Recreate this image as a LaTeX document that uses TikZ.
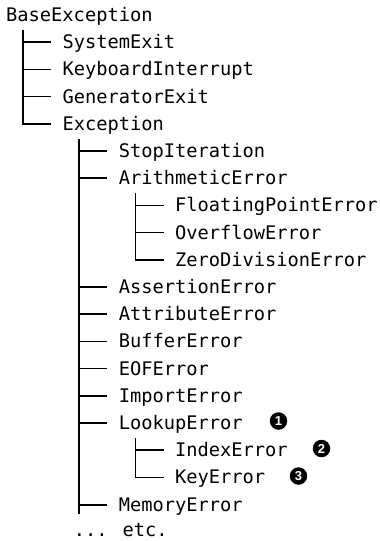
\documentclass[tikz,border=0pt]{standalone}
\usepackage{fontspec}
\newfontfamily\treefont{DejaVu Sans Mono}
\newfontfamily\calloutfont{Liberation Sans}
\usepackage{tikz}

\begin{document}
\begin{tikzpicture}[x=1pt, y=-1pt,
		exc/.style={anchor=west, inner sep=0pt, text height=13pt, text depth=0pt, font=\treefont\fontsize{18.7}{20}\selectfont},
		branch/.style={line width=1.5pt, black},
		callout/.style={circle, fill=black, inner sep=0pt, minimum size=17.5pt, text=white, font=\calloutfont\bfseries\fontsize{13}{13}\selectfont}]
	\useasboundingbox (0,0) rectangle (380,541);
	% exception names, one row each
	\node[exc] (base) at (6,15) {BaseException};
	\node[exc] (sysexit) at (62.3,42.2) {SystemExit};
	\node[exc] (keyint) at (62.3,69.4) {KeyboardInterrupt};
	\node[exc] (genexit) at (62.3,96.6) {GeneratorExit};
	\node[exc] (exc) at (62.3,123.8) {Exception};
	\node[exc] (stopit) at (118.6,151) {StopIteration};
	\node[exc] (arith) at (118.6,178.2) {ArithmeticError};
	\node[exc] (floating) at (174.9,205.4) {FloatingPointError};
	\node[exc] (overflow) at (174.9,232.6) {OverflowError};
	\node[exc] (zerodiv) at (174.9,259.8) {ZeroDivisionError};
	\node[exc] (assert) at (118.6,287) {AssertionError};
	\node[exc] (attr) at (118.6,314.2) {AttributeError};
	\node[exc] (buffer) at (118.6,341.4) {BufferError};
	\node[exc] (eof) at (118.6,368.6) {EOFError};
	\node[exc] (import) at (118.6,395.8) {ImportError};
	\node[exc] (lookup) at (118.6,423) {LookupError};
	\node[exc] (index) at (174.9,450.2) {IndexError};
	\node[exc] (key) at (174.9,477.4) {KeyError};
	\node[exc] (memory) at (118.6,505) {MemoryError};
	\node[exc] (etc) at (73.6,529.5) {... etc.};
	% tree branches
	\draw[branch] ([xshift=16.9pt, yshift=-8pt]base.south west) |- ([xshift=-11.3pt]sysexit.west)
		([xshift=16.9pt, yshift=-8pt]base.south west) |- ([xshift=-11.3pt]keyint.west)
		([xshift=16.9pt, yshift=-8pt]base.south west) |- ([xshift=-11.3pt]genexit.west)
		([xshift=16.9pt, yshift=-8pt]base.south west) |- ([xshift=-11.3pt]exc.west);
	\draw[branch] ([xshift=16.9pt, yshift=-8pt]exc.south west) |- ([xshift=-11.3pt]stopit.west)
		([xshift=16.9pt, yshift=-8pt]exc.south west) |- ([xshift=-11.3pt]arith.west)
		([xshift=16.9pt, yshift=-8pt]exc.south west) |- ([xshift=-11.3pt]assert.west)
		([xshift=16.9pt, yshift=-8pt]exc.south west) |- ([xshift=-11.3pt]attr.west)
		([xshift=16.9pt, yshift=-8pt]exc.south west) |- ([xshift=-11.3pt]buffer.west)
		([xshift=16.9pt, yshift=-8pt]exc.south west) |- ([xshift=-11.3pt]eof.west)
		([xshift=16.9pt, yshift=-8pt]exc.south west) |- ([xshift=-11.3pt]import.west)
		([xshift=16.9pt, yshift=-8pt]exc.south west) |- ([xshift=-11.3pt]lookup.west)
		([xshift=16.9pt, yshift=-8pt]exc.south west) |- ([xshift=-11.3pt]memory.west);
	\draw[branch] ([xshift=-11.3pt]memory.west) ++(-28.1,0) -- ++(0,9);
	\draw[branch] ([xshift=16.9pt, yshift=-8pt]arith.south west) |- ([xshift=-11.3pt]floating.west)
		([xshift=16.9pt, yshift=-8pt]arith.south west) |- ([xshift=-11.3pt]overflow.west)
		([xshift=16.9pt, yshift=-8pt]arith.south west) |- ([xshift=-11.3pt]zerodiv.west);
	\draw[branch] ([xshift=16.9pt, yshift=-8pt]lookup.south west) |- ([xshift=-11.3pt]index.west)
		([xshift=16.9pt, yshift=-8pt]lookup.south west) |- ([xshift=-11.3pt]key.west);
	% callout markers
	\node[callout] (one) at (278.5,421) {1};
	\node[callout] (two) at (321.5,448.5) {2};
	\node[callout] (three) at (298.5,476) {3};
\end{tikzpicture}
\end{document}
